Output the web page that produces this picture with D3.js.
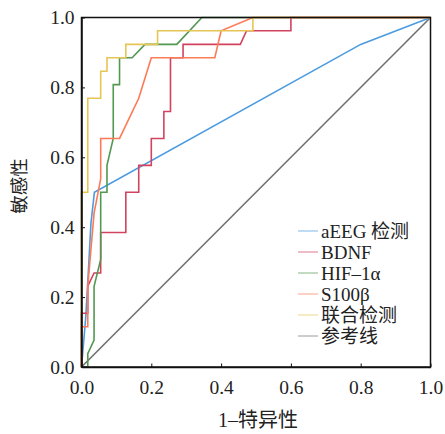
<!DOCTYPE html>
<html>
<head>
<meta charset="utf-8">
<script src="https://cdn.jsdelivr.net/npm/d3@7"></script>
<style>
  body { margin: 0; background: #fff; }
  svg text { font-family: "Liberation Serif", "Noto Sans CJK SC", serif; fill: #222; }
</style>
</head>
<body>
<div id="chart"></div>
<script>
// ROC curves, 1-specificity vs sensitivity
const seriesNames = ["aEEG 检测", "BDNF", "HIF\u20131α", "S100β", "联合检测", "参考线"];
const seriesColors = ["#4c9be0", "#d2435f", "#529851", "#fd7a56", "#e5c654", "#707070"];

const aeegX = [0, 0.012, 0.02, 0.027, 0.037, 0.8, 1];
const aeegY = [0, 0.14, 0.28, 0.41, 0.5, 0.923, 1];

const bdnfX = [0, 0, 0.018, 0.018, 0.036, 0.055, 0.055, 0.127, 0.127, 0.164, 0.164, 0.2, 0.2, 0.236, 0.236, 0.255, 0.255, 0.291, 0.291, 0.455, 0.473, 0.6, 0.6, 1];
const bdnfY = [0, 0.154, 0.154, 0.231, 0.269, 0.269, 0.385, 0.385, 0.5, 0.5, 0.577, 0.577, 0.654, 0.654, 0.731, 0.731, 0.885, 0.885, 0.923, 0.923, 0.962, 0.962, 1, 1];

const hifX = [0, 0.018, 0.018, 0.036, 0.036, 0.055, 0.055, 0.073, 0.073, 0.091, 0.091, 0.109, 0.109, 0.145, 0.182, 0.273, 0.345, 1];
const hifY = [0, 0, 0.038, 0.077, 0.231, 0.308, 0.5, 0.5, 0.577, 0.654, 0.808, 0.808, 0.885, 0.885, 0.923, 0.923, 1, 1];

const s100X = [0, 0, 0.018, 0.018, 0.036, 0.055, 0.055, 0.109, 0.164, 0.2, 0.382, 0.4, 0.491, 1];
const s100Y = [0, 0.115, 0.115, 0.231, 0.44, 0.538, 0.654, 0.654, 0.769, 0.885, 0.885, 0.962, 1, 1];

const combX = [0, 0, 0.018, 0.018, 0.055, 0.055, 0.073, 0.073, 0.127, 0.127, 0.218, 0.218, 0.491, 0.491, 1];
const combY = [0, 0.5, 0.5, 0.769, 0.769, 0.846, 0.846, 0.885, 0.885, 0.923, 0.923, 0.962, 0.962, 1, 1];

const refX = [0, 1];
const refY = [0, 1];

const tickValues = [0, 0.2, 0.4, 0.6, 0.8, 1.0];

const width = 445, height = 434;
const margin = { left: 81.5, right: 14.5, top: 17.5, bottom: 67 };

const svg = d3.select("#chart").append("svg")
    .attr("width", width)
    .attr("height", height);

const x = d3.scaleLinear().domain([0, 1]).range([margin.left, width - margin.right]);
const y = d3.scaleLinear().domain([0, 1]).range([height - margin.bottom, margin.top]);

const allX = [aeegX, bdnfX, hifX, s100X, combX, refX];
const allY = [aeegY, bdnfY, hifY, s100Y, combY, refY];

const line = d3.line().x(d => x(d[0])).y(d => y(d[1]));

// reference line first, then the curves in legend order
const order = [5, 0, 1, 2, 3, 4];
order.forEach(i => {
    const pts = d3.zip(allX[i], allY[i]);
    svg.append("path")
        .datum(pts)
        .attr("d", line)
        .attr("fill", "none")
        .attr("stroke", seriesColors[i])
        .attr("stroke-width", 1.6);
});

// frame
svg.append("rect")
    .attr("x", x(0))
    .attr("y", y(1))
    .attr("width", x(1) - x(0))
    .attr("height", y(0) - y(1))
    .attr("fill", "none")
    .attr("stroke", "#111")
    .attr("stroke-width", 1.5);

const fmt = d3.format(".1f");

const xAxis = svg.append("g")
    .attr("transform", `translate(0,${y(0)})`)
    .call(d3.axisBottom(x).tickValues(tickValues).tickFormat(fmt).tickSizeInner(-3.5).tickSizeOuter(0).tickPadding(13));

const yAxis = svg.append("g")
    .attr("transform", `translate(${x(0)},0)`)
    .call(d3.axisLeft(y).tickValues(tickValues).tickFormat(fmt).tickSizeInner(-3.5).tickSizeOuter(0).tickPadding(7));

[xAxis, yAxis].forEach(g => {
    g.select(".domain").attr("stroke", "#111").attr("stroke-width", 1.5);
    g.selectAll(".tick line").attr("stroke", "#111");
    g.selectAll(".tick text")
        .attr("fill", "#222")
        .style("font-family", "'Liberation Serif', serif")
        .style("font-size", "19.5px");
});

// axis titles
svg.append("text")
    .attr("x", (x(0) + x(1)) / 2 + 2)
    .attr("y", 427)
    .attr("text-anchor", "middle")
    .style("font-size", "20px")
    .text("1\u2013特异性");

svg.append("text")
    .attr("transform", `translate(26,${186}) rotate(-90)`)
    .attr("text-anchor", "middle")
    .style("font-size", "18.5px")
    .text("敏感性");

// legend
const legend = svg.append("g").attr("transform", "translate(298,231)");
seriesNames.forEach((name, i) => {
    const row = legend.append("g").attr("transform", `translate(0,${i * 21})`);
    row.append("line")
        .attr("x1", 0).attr("x2", 20)
        .attr("y1", 0).attr("y2", 0)
        .attr("stroke", seriesColors[i])
        .attr("stroke-opacity", 0.7)
        .attr("stroke-width", 1);
    row.append("text")
        .attr("x", 23)
        .attr("dy", "0.35em")
        .style("font-size", "19px")
        .text(name);
});
</script>
</body>
</html>
